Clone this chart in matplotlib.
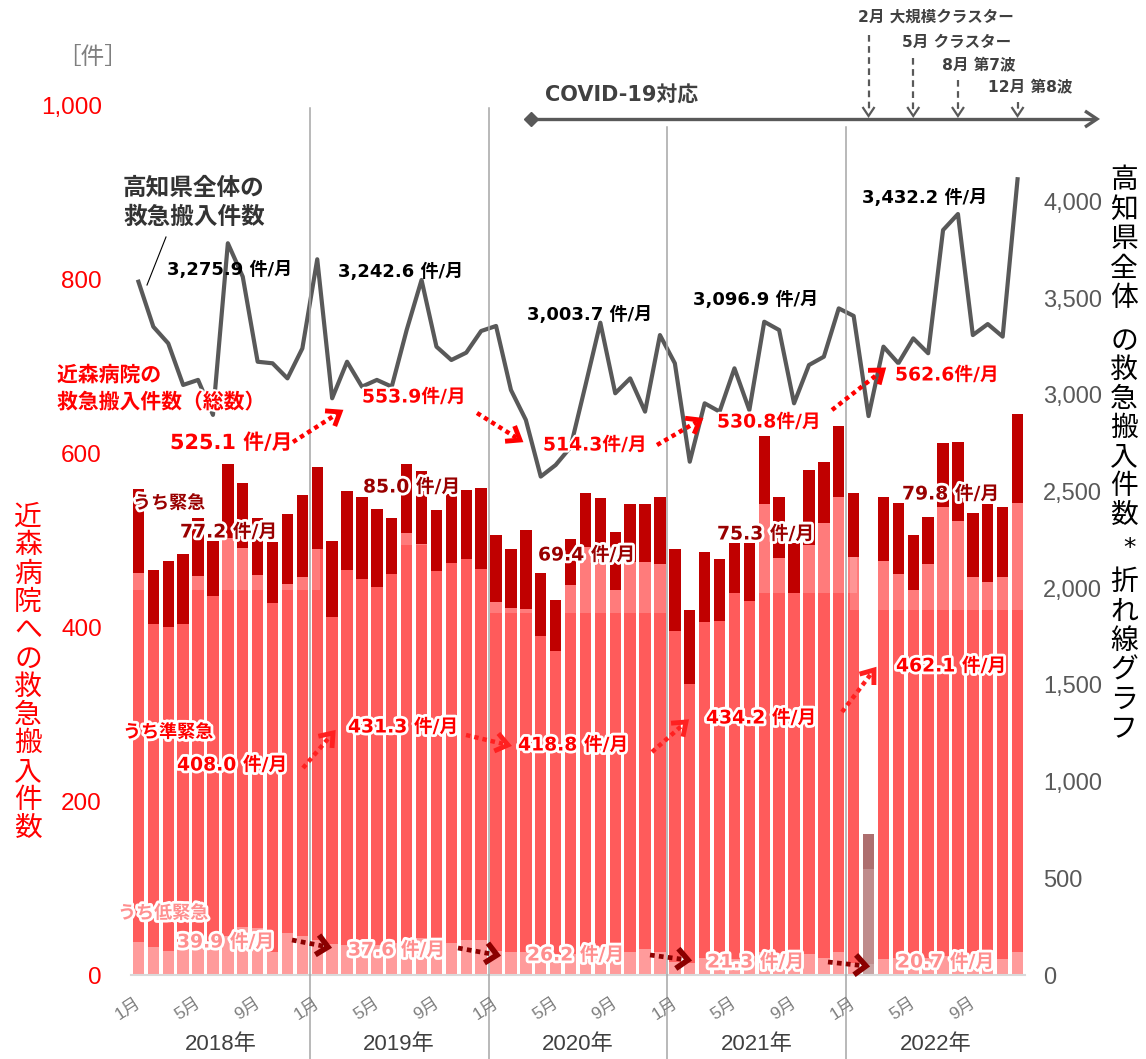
import matplotlib
matplotlib.use("Agg")
import matplotlib.pyplot as plt
import matplotlib.patheffects as pe
from matplotlib.patches import Rectangle
import numpy as np

# ---------------- data ----------------
years = ["2018年", "2019年", "2020年", "2021年", "2022年"]
month_ticks = ["1月", "5月", "9月"]
month_tick_idx = [0, 4, 8]

urgent = [97, 62, 76, 80, 66, 63, 85, 75, 65, 70, 80, 95,
          94, 87, 90, 94, 90, 64, 79, 84, 71, 80, 80, 93,
          77, 68, 90, 72, 59, 53, 62, 73, 67, 66, 66, 77,
          95, 85, 80, 71, 57, 66, 78, 71, 57, 87, 70, 82,
          74, 40, 73, 82, 64, 55, 74, 91, 74, 89, 81, 103]
semi = [424, 372, 372, 373, 426, 400, 457, 436, 406, 402, 402, 412,
        450, 376, 431, 422, 412, 424, 469, 453, 426, 436, 438, 427,
        401, 395, 395, 366, 350, 424, 466, 448, 416, 448, 445, 445,
        380, 321, 386, 385, 421, 408, 514, 454, 417, 470, 500, 523,
        466, 109, 458, 441, 420, 452, 516, 498, 435, 432, 439, 516]
low = [38, 32, 28, 31, 33, 36, 45, 55, 54, 26, 48, 45,
       40, 36, 35, 33, 34, 37, 39, 42, 38, 37, 40, 40,
       28, 27, 26, 24, 22, 24, 26, 27, 26, 27, 30, 27,
       15, 14, 20, 22, 18, 22, 27, 25, 22, 24, 20, 26,
       14, 13, 18, 20, 22, 20, 22, 24, 22, 20, 18, 26]
kochi = [3586, 3353, 3267, 3052, 3078, 2897, 3785, 3612, 3172, 3164, 3086, 3241,
         3702, 2983, 3172, 3043, 3078, 3043, 3336, 3595, 3250, 3181, 3219, 3331,
         3357, 3026, 2871, 2578, 2638, 2730, 3050, 3374, 3009, 3086, 2914, 3310,
         3164, 2655, 2957, 2914, 3138, 2922, 3379, 3336, 2957, 3155, 3198, 3448,
         3409, 2891, 3250, 3164, 3293, 3216, 3853, 3936, 3310, 3367, 3302, 4116]
partial_month = 49  # grey bar (Feb 2022)

kochi_avg = ["3,275.9 件/月", "3,242.6 件/月", "3,003.7 件/月", "3,096.9 件/月", "3,432.2 件/月"]
total_avg = ["525.1 件/月", "553.9件/月", "514.3件/月", "530.8件/月", "562.6件/月"]
urgent_avg = ["77.2 件/月", "85.0 件/月", "69.4 件/月", "75.3 件/月", "79.8 件/月"]
semi_avg = ["408.0 件/月", "431.3 件/月", "418.8 件/月", "434.2 件/月", "462.1 件/月"]
low_avg = ["39.9 件/月", "37.6 件/月", "26.2 件/月", "21.3 件/月", "20.7 件/月"]
events = ["2月 大規模クラスター", "5月 クラスター", "8月 第7波", "12月 第8波"]
event_month = [49, 52, 55, 59]

# ---------------- figure ----------------
W, H = 1146, 1059
CJK = "Noto Sans CJK JP"
NUM = ["DejaVu Sans", CJK]
LIB = ["Liberation Sans", CJK]
plt.rcParams["font.family"] = ["DejaVu Sans", CJK]

fig = plt.figure(figsize=(W / 100, H / 100), dpi=100)
ax = fig.add_axes([131 / W, 1 - 975 / H, 894 / W, 870 / H])
ax2 = ax.twinx()
ov = fig.add_axes([0, 0, 1, 1], zorder=10)
ov.set_xlim(0, W)
ov.set_ylim(H, 0)
ov.axis("off")
ov.patch.set_alpha(0)

x = np.arange(len(kochi))
c_low = ["#FF9B9B"] * 60
c_semi = ["#FF5B5B"] * 60
c_urg = ["#C00000"] * 60
c_low[partial_month] = "#C9A3A3"
c_semi[partial_month] = "#BF8C8C"
c_urg[partial_month] = "#AD6F6F"
bw = 0.77
ax.bar(x, low, bw, color=c_low, zorder=2)
ax.bar(x, semi, bw, bottom=low, color=c_semi, zorder=2)
ax.bar(x, urgent, bw, bottom=np.add(low, semi), color=c_urg, zorder=3)

# translucent white label boxes (lighten the pink part only)
for (rx, ry, rw, rh) in [(130, 500, 190, 90), (322, 462, 165, 83), (490, 505, 177, 108),
                         (740, 480, 117, 113), (850, 440, 175, 170)]:
    ax.add_patch(Rectangle((rx, ry), rw, rh, transform=ov.transData, facecolor="white",
                           alpha=0.2, edgecolor="none", zorder=2.5, clip_on=False))

ax2.plot(x, kochi, color="#595959", lw=3.0, zorder=4, solid_joinstyle="round")

ax.set_xlim(-0.5, 59.5)
ax.set_ylim(0, 1000)
ax2.set_ylim(0, 4500)
for a in (ax, ax2):
    for s in a.spines.values():
        s.set_visible(False)
ax.spines["bottom"].set_visible(True)
ax.spines["bottom"].set_color("#D9D9D9")
ax.spines["bottom"].set_linewidth(1.5)
ax.set_xticks([])
ax.set_yticks(range(0, 1001, 200))
ax.set_yticklabels([f"{v:,}" for v in range(0, 1001, 200)], family=LIB)
ax.tick_params(axis="y", length=0, pad=21, labelsize=17.5, labelcolor="#FF0000")
ax2.set_yticks(range(0, 4001, 500))
ax2.set_yticklabels([f"{v:,}" for v in range(0, 4001, 500)], family=LIB)
ax2.tick_params(axis="y", length=0, pad=13, labelsize=17, labelcolor="#595959")


def mx(m):
    return ax.transData.transform((m, 0))[0]


def txt(px, py, s, size, color, weight="normal", ha="left", va="center", fam=NUM, halo=0, **kw):
    t = ov.text(px, py, s, fontsize=size, color=color, fontweight=weight, ha=ha, va=va,
                family=fam, **kw)
    if halo:
        t.set_path_effects([pe.withStroke(linewidth=halo, foreground="white")])
    return t


def chevron(x1, y1, dx, dy, h, w, color, lw):
    L = np.hypot(dx, dy)
    ux, uy = dx / L, dy / L
    nx, ny = -uy, ux
    xs = [x1 - h * ux + w * nx, x1, x1 - h * ux - w * nx]
    ys = [y1 - h * uy + w * ny, y1, y1 - h * uy - w * ny]
    ov.plot(xs, ys, color=color, lw=lw, solid_joinstyle="miter", solid_capstyle="butt")


def darrow(p0, p1, color, lw=3.2, h=12, w=9, hlw=3.5, ls=(0, (1, 0.9))):
    (x0, y0), (x1, y1) = p0, p1
    dx, dy = x1 - x0, y1 - y0
    L = np.hypot(dx, dy)
    ex, ey = x1 - dx / L * 4, y1 - dy / L * 4
    ov.plot([x0, ex], [y0, ey], color=color, lw=lw, ls=ls, dash_capstyle="butt")
    chevron(x1, y1, dx, dy, h, w, color, hlw)


# year dividers
for k, ytop in zip(range(1, 5), [108, 108, 127, 127]):
    xd = mx(12 * k - 0.5)
    ov.plot([xd, xd], [ytop, H], color="#A6A6A6", lw=1.1, zorder=1)

# x labels
for k, yl in enumerate(years):
    txt(mx(12 * k + 5.5), 1045, yl, 16, "#404040", ha="center", fam=LIB)
    for lab, mi in zip(month_ticks, month_tick_idx):
        txt(mx(12 * k + mi) + 1, 1001, lab, 12.5, "#7F7F7F", ha="right", va="center",
            fam=LIB, rotation=33, rotation_mode="anchor")

# unit label
txt(57, 57, "［件］", 17, "#7F7F7F", fam=[CJK])

# left vertical label
for i, ch in enumerate("近森病院への救急搬入件数"):
    txt(28, 517 + 28.3 * i, ch, 20, "#FF0000", ha="center", fam=[CJK])

# right vertical label
seg = [("高知県全体", 180, 29.5), ("の救急搬入件数", 341, 29), ("折れ線グラフ", 582, 29.5)]
for s, y0, st in seg:
    for i, ch in enumerate(s):
        txt(1124, y0 + st * i, ch, 20, "#000000", ha="center", fam=[CJK])
txt(1130, 548, "*", 18, "#000000", ha="center", fam=["DejaVu Sans"])

# COVID arrow
ov.plot([531, 1094], [119, 119], color="#595959", lw=2.4, solid_capstyle="butt")
chevron(1097, 119, 1, 0, 12, 8, "#595959", 2.4)
ov.plot([531], [119], marker="D", ms=7, color="#595959")
txt(545, 96, "COVID-19対応", 15, "#404040", weight="bold")

# event arrows
ev_top = [35, 58, 80, 102]
ev_lab = [(858, 17), (902, 42), (942, 66), (988, 88)]
for e, m, yt, (lx, ly) in zip(events, event_month, ev_top, ev_lab):
    xe = mx(m)
    ov.plot([xe, xe], [yt, 112], color="#595959", lw=1.6, ls=(0, (3, 2)))
    chevron(xe, 116, 0, 1, 9, 6, "#595959", 1.6)
    txt(lx, ly, e, 11.2, "#404040", weight="bold")

# Kochi overall labels
txt(123, 188, "高知県全体の", 17, "#333333", weight="bold", fam=[CJK])
txt(123, 217, "救急搬入件数", 17, "#333333", weight="bold", fam=[CJK])
ov.plot([166, 147], [237, 285], color="black", lw=0.8)
for s, (px, py) in zip(kochi_avg, [(167, 270), (338, 272), (527, 315), (693, 300), (862, 198)]):
    txt(px, py, s, 13, "#000000", weight="bold")

# total (red)
txt(57, 375, "近森病院の", 15, "#FF0000", weight="bold", fam=[CJK], halo=3)
txt(57, 402, "救急搬入件数（総数）", 15, "#FF0000", weight="bold", fam=[CJK], halo=3)
tot_pos = [(170, 443), (362, 397), (543, 445), (717, 422), (895, 375)]
for i, (s, (px, py)) in enumerate(zip(total_avg, tot_pos)):
    txt(px, py, s, 15 if i == 0 else 13.5, "#FF0000", weight="bold", halo=3)
for p0, p1 in [((293, 442), (340, 412)), ((477, 413), (520, 440)),
               ((657, 445), (700, 420)), ((832, 410), (883, 370))]:
    darrow(p0, p1, "#FF0000")

# urgent (dark red)
txt(133, 503, "うち緊急", 13, "#990000", weight="bold", fam=[CJK], halo=4)
for s, (px, py) in zip(urgent_avg, [(180, 532), (363, 487), (538, 555), (717, 534), (902, 494)]):
    txt(px, py, s, 13.5, "#990000", weight="bold", halo=4)

# semi-urgent (red)
txt(123, 732, "うち準緊急", 13, "#FF0000", weight="bold", fam=[CJK], halo=4)
for s, (px, py) in zip(semi_avg, [(177, 765), (348, 727), (518, 745), (706, 718), (896, 666)]):
    txt(px, py, s, 13.5, "#FF0000", weight="bold", halo=4)
for p0, p1 in [((303, 768), (333, 733)), ((466, 735), (508, 745)),
               ((652, 752), (686, 722)), ((842, 712), (874, 670))]:
    darrow(p0, p1, "#FF2020")

# low-urgency (pale)
txt(118, 913, "うち低緊急", 13, "#FF8F8F", weight="bold", fam=[CJK], halo=4)
for s, (px, py) in zip(low_avg, [(177, 942), (348, 950), (527, 955), (707, 962), (897, 962)]):
    txt(px, py, s, 13.5, "#FF8F8F", weight="bold", halo=4)
for p0, p1 in [((292, 940), (328, 947)), ((458, 948), (497, 955)),
               ((650, 955), (688, 960)), ((828, 962), (866, 966))]:
    darrow(p0, p1, "#8B0000", lw=3.4, h=11, w=10, hlw=4)

fig.savefig("out.png", dpi=100)
